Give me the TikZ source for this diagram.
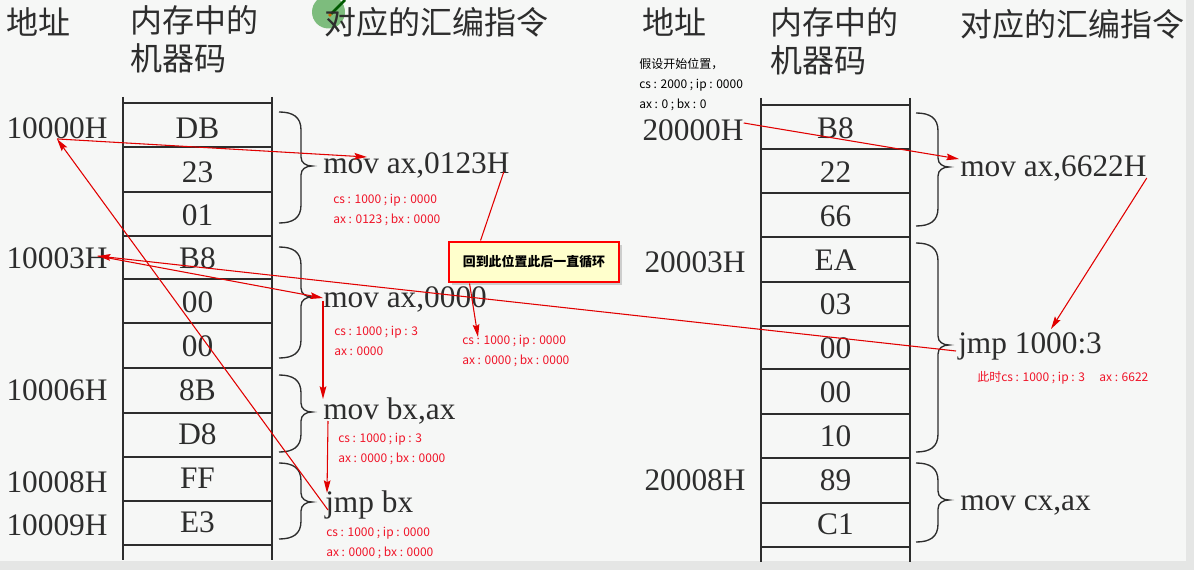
\documentclass[tikz,border=0pt]{standalone}
\usepackage{fontspec}
\setmainfont{Liberation Serif}
\newfontfamily\cjk{Noto Sans CJK SC}
\usepackage{tikz}
\usetikzlibrary{calc}
\usetikzlibrary{positioning}
\usetikzlibrary{arrows.meta, shadows}

\definecolor{pagebg}{RGB}{246,247,246}
\definecolor{edgebg}{RGB}{229,230,229}
\definecolor{ink}{RGB}{45,45,45}
\definecolor{notered}{RGB}{240,20,40}
\definecolor{linered}{RGB}{225,0,0}
\definecolor{boxfill}{RGB}{255,255,204}
\definecolor{cursorgreen}{RGB}{104,178,104}

% curly brace: x, top, tip, bottom
\newcommand{\membrace}[4]{%
  \begin{scope}[shift={(#1,0)}]
    \draw[bracestyle] (0,#2) .. controls (14,#2) and (22,#2+5) .. (22,#2+18)
      -- (22,#3-9) .. controls (22,#3-3) and (27,#3) .. (33,#3)
      .. controls (27,#3) and (22,#3+3) .. (22,#3+9)
      -- (22,#4-18) .. controls (22,#4-5) and (14,#4) .. (0,#4);
  \end{scope}}

\begin{document}
\begin{tikzpicture}[x=0.75pt,y=0.75pt,yscale=-1,xscale=1,
    big/.style={font=\fontsize{23.5}{28}\selectfont, text=ink, inner sep=0pt, text height=16pt, text depth=0pt},
    head/.style={font=\cjk\fontsize{24}{28.5}\selectfont, text=ink, inner sep=0pt, align=left},
    note/.style={font=\cjk\fontsize{9}{15}\selectfont, text=notered, inner sep=0pt, align=left},
    grid/.style={draw=ink, line width=1.5pt},
    bracestyle/.style={draw=ink, line width=1pt},
    flow/.style={draw=linered, line width=0.8pt, -{Stealth[length=9.5pt,width=5pt,inset=1.5pt]}},
    plainred/.style={draw=linered, line width=0.8pt}]

  \useasboundingbox (0,0) rectangle (1194,570);
  \fill[edgebg] (0,0) rectangle (1194,570);
  \fill[pagebg] (0,0) rectangle (1186,561);

  %Shape: cursor mark
  \fill[cursorgreen, opacity=0.85] (328.5,12) circle (16.5);
  \draw[green!35!black, line width=2pt] (331,14) -- (345,0);
  \fill[orange!80!black] (330,15) circle (1.8);

  %Shape: left memory column
  \draw[grid] (123,97) -- (123,560) (272,97) -- (272,560);
  \draw[grid] (123,103) -- (272,103) (123,147) -- (272,147) (123,192) -- (272,192) (123,236) -- (272,236) (123,279) -- (272,279) (123,323) -- (272,323) (123,368) -- (272,368) (123,413) -- (272,413) (123,457) -- (272,457) (123,501) -- (272,501) (123,545) -- (272,545);
  %Shape: right memory column
  \draw[grid] (761,98) -- (761,562) (910,98) -- (910,562);
  \draw[grid] (761,105) -- (910,105) (761,149) -- (910,149) (761,193) -- (910,193) (761,237) -- (910,237) (761,282) -- (910,282) (761,326) -- (910,326) (761,369) -- (910,369) (761,414) -- (910,414) (761,458) -- (910,458) (761,503) -- (910,503) (761,547) -- (910,547);

  %Shape: braces
  \membrace{279}{112}{166}{223}
  \membrace{279}{247}{297}{358}
  \membrace{279}{375}{412}{452}
  \membrace{279}{463}{502}{539}
  \membrace{916}{113}{167}{226}
  \membrace{916}{243}{345}{452}
  \membrace{916}{463}{500}{542}

  % Text Node
  \node[head] (laddrhead) at (39,22) {地址};
  \node[head, anchor=west] (lcodehead) at (130,39) {内存中的\\机器码};
  \node[head] (lasmhead) at (436,22) {对应的汇编指令};
  \node[head] (raddrhead) at (674,22) {地址};
  \node[head, anchor=west] (rcodehead) at (770,41) {内存中的\\机器码};
  \node[head] (rasmhead) at (1072,24) {对应的汇编指令};

  % Text Node
  \node[big] (a10000) at (57,128) {10000H};
  \node[big] (a10003) at (57,258) {10003H};
  \node[big] (a10006) at (57,390) {10006H};
  \node[big] (a10008) at (57,482) {10008H};
  \node[big] (a10009) at (57,525) {10009H};
  \node[big] (a20000) at (693,130) {20000H};
  \node[big] (a20003) at (695,262) {20003H};
  \node[big] (a20008) at (695,480) {20008H};

  % Text Node
  \node[big] (lcell1) at (197.5,128) {DB};
  \node[big] (lcell2) at (197.5,172) {23};
  \node[big] (lcell3) at (197.5,215) {01};
  \node[big] (lcell4) at (197.5,258) {B8};
  \node[big] (lcell5) at (197.5,302) {00};
  \node[big] (lcell6) at (197.5,346) {00};
  \node[big] (lcell7) at (197.5,390) {8B};
  \node[big] (lcell8) at (197.5,434) {D8};
  \node[big] (lcell9) at (197.5,478) {FF};
  \node[big] (lcell10) at (197.5,522) {E3};
  \node[big] (rcell1) at (835.5,128) {B8};
  \node[big] (rcell2) at (835.5,172) {22};
  \node[big] (rcell3) at (835.5,216) {66};
  \node[big] (rcell4) at (835.5,260) {EA};
  \node[big] (rcell5) at (835.5,304) {03};
  \node[big] (rcell6) at (835.5,348) {00};
  \node[big] (rcell7) at (835.5,392) {00};
  \node[big] (rcell8) at (835.5,436) {10};
  \node[big] (rcell9) at (835.5,480) {89};
  \node[big] (rcell10) at (835.5,524) {C1};

  % Text Node
  \node[big, anchor=west] (i1) at (323,163) {mov ax,0123H};
  \node[big, anchor=west] (i2) at (323,297) {mov ax,0000};
  \node[big, anchor=west] (i3) at (323,409) {mov bx,ax};
  \node[big, anchor=west] (i4) at (325,502) {jmp bx};
  \node[big, anchor=west] (r1) at (960,166) {mov ax,6622H};
  \node[big, anchor=west] (r2) at (958,343) {jmp 1000:3};
  \node[big, anchor=west] (r3) at (960,500) {mov cx,ax};

  % Text Node
  \node[note, anchor=west] (n1) at (333,210) {cs : 1000 ; ip : 0000\\ax : 0123 ; bx : 0000};
  \node[note, anchor=west] (n2) at (334,341) {cs : 1000 ; ip : 3\\ax : 0000};
  \node[note, anchor=west] (n3) at (462,351) {cs : 1000 ; ip : 0000\\ax : 0000 ; bx : 0000};
  \node[note, anchor=west] (n4) at (338,449) {cs : 1000 ; ip : 3\\ax : 0000 ; bx : 0000};
  \node[note, anchor=west] (n5) at (326,543) {cs : 1000 ; ip : 0000\\ax : 0000 ; bx : 0000};
  \node[note, anchor=west] (rn) at (977,378) {此时cs : 1000 ; ip : 3\hspace{1.2em}ax : 6622};
  \node[note, anchor=west, text=black] (start) at (639,85) {假设开始位置，\\cs : 2000 ; ip : 0000\\ax : 0 ; bx : 0};

  %Shape: loop box
  \node[draw=red, line width=2.2pt, fill=boxfill, minimum width=127.5pt, minimum height=30pt,
        drop shadow={shadow xshift=2.5pt, shadow yshift=-2.5pt, fill=black!35},
        font=\cjk\bfseries\fontsize{9.7}{12}\selectfont] (loopbox) at (534,262) {回到此位置此后一直循环};

  % red arrows, left program
  \draw[flow] (a10000.south) -- ($(i1.west)+(44,-6)$);
  \draw[plainred] ($(i1.east)+(-6,9)$) -- ($(loopbox.north west)+(33,0)$);
  \draw[flow] ($(loopbox.south west)+(22,0)$) -- ($(n3.west)+(16,-14)$);
  \draw[flow] ($(a10003.east)+(-10,-2)$) -- ($(i2.west)+(0,1)$);
  \draw[flow] ($(i2.west)+(0,4)$) -- ($(i3.west)+(0,-10)$);
  \draw[flow] ($(i3.west)+(5,12)$) -- ($(i4.west)+(2,-9)$);
  \draw[flow] ($(i4.west)+(3,8)$) -- (a10000.south);
  % red arrows, right program
  \draw[flow] ($(a20000.east)+(0,-7)$) -- ($(r1.west)+(-1,-7)$);
  \draw[flow] ($(r1.east)+(0,12)$) -- ($(r2.west)+(93,-14)$);
  \draw[flow] ($(r2.west)+(-2,8)$) -- ($(a10003.east)+(-10,-2)$);

\end{tikzpicture}
\end{document}
